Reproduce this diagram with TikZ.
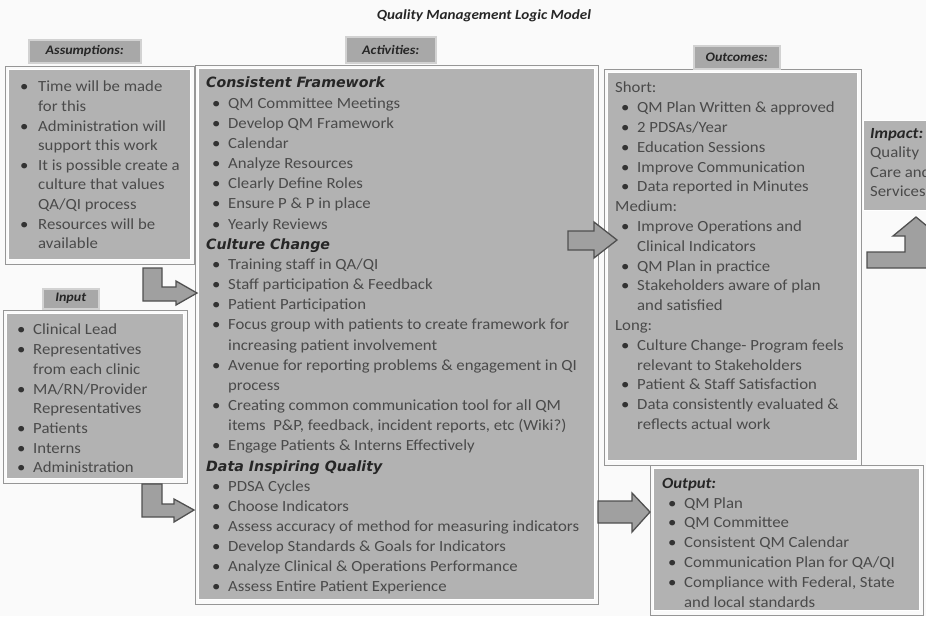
\documentclass[tikz,border=0pt]{standalone}
\usepackage{fontspec}
\setmainfont{Carlito}[FakeStretch=1.08]
\newfontfamily\headfont{DejaVu Sans}
\definecolor{paper}{RGB}{250,250,250}
\definecolor{boxfill}{RGB}{178,178,178}
\definecolor{tagfill}{RGB}{168,168,168}
\definecolor{txtgray}{RGB}{74,74,74}
\definecolor{headgray}{RGB}{38,38,38}
\definecolor{rimgray}{RGB}{150,150,150}
\definecolor{arrowfill}{RGB}{160,160,160}
\definecolor{arrowline}{RGB}{80,80,80}
\newcommand{\itm}[1]{\makebox[16pt][l]{\textcolor{black!80}{\textbullet}}#1}
\newcommand{\nxt}[1]{\hspace*{16pt}#1}
\newcommand{\hd}[1]{\hspace*{-6pt}{\headfont\fontsize{14.2}{20}\selectfont\bfseries\itshape\color{headgray}#1}}

\begin{document}
\begin{tikzpicture}[x=1pt, y=-1pt,
    panel/.style={fill=boxfill, draw=white, line width=1pt, anchor=north west, inner sep=0pt},
    tag/.style={fill=tagfill, draw=gray!35, line width=1.5pt, anchor=north west, inner sep=0pt,
        text=headgray, font=\fontsize{13}{14}\selectfont\bfseries\itshape},
    items/.style={anchor=north west, inner sep=0pt, align=left, text=txtgray},
    rim/.style={draw=rimgray, line width=.8pt},
    blockarrow/.style={draw=arrowline, line width=1.3pt, fill=arrowfill, line join=miter}]
\clip (0,0) rectangle (926,616);
\fill[paper] (0,0) rectangle (926,616);

% title
\node[font=\fontsize{14}{16}\selectfont\bfseries\itshape, text=headgray] (title) at (484,16) {Quality Management Logic Model};

% boxes
\node[panel, minimum width=182, minimum height=190] (assum) at (8,69) {};
\node[panel, minimum width=177, minimum height=165] (input) at (6,313) {};
\node[panel, minimum width=396, minimum height=531] (activ) at (198,68) {};
\node[panel, minimum width=250, minimum height=388] (outc) at (607,72) {};
\node[panel, minimum width=266, minimum height=142] (outp) at (653,468) {};
\node[panel, minimum width=80, minimum height=90] (impact) at (863,120) {};
\foreach \b in {assum,input,activ,outc,outp}
    \draw[rim] ([shift={(-3,-3)}]\b.north west) rectangle ([shift={(3,4)}]\b.south east);

% headings
\node[tag, minimum width=112, minimum height=23] (assumtag) at (28,39) {Assumptions:};
\node[tag, minimum width=90, minimum height=26] (activtag) at (345,36) {Activities:};
\node[tag, minimum width=86, minimum height=23] (outctag) at (693,45) {Outcomes:};
\node[tag, minimum width=56, minimum height=20] (inputtag) at (42,288) {Input};

% arrows
\draw[blockarrow] (143,268) -- (162,268) -- (162,287) -- (176,287) -- (176,281) -- (197,293)
    -- (176,305) -- (176,301) -- (143,301) -- cycle;
\draw[blockarrow] (142,484) -- (162,484) -- (162,504) -- (174,504) -- (174,499) -- (194,510)
    -- (174,522) -- (174,517) -- (142,517) -- cycle;
\draw[blockarrow] (568,231) -- (594,231) -- (594,222) -- (617,240) -- (594,258) -- (594,250)
    -- (568,250) -- cycle;
\draw[blockarrow] (598,501) -- (632,501) -- (632,493) -- (650,512) -- (632,532) -- (632,523)
    -- (598,523) -- cycle;
\draw[blockarrow] (867,252) -- (905,252) -- (905,236) -- (893,236) -- (916,217) -- (939,236)
    -- (927,236) -- (927,268) -- (867,268) -- cycle;

% texts
\node[items, font=\fontsize{15.5}{19.6}\selectfont] (assumtxt) at (20,81) {%
\makebox[18pt][l]{\textcolor{black!80}{\textbullet}}Time will be made\\
\hspace*{18pt}for this\\
\makebox[18pt][l]{\textcolor{black!80}{\textbullet}}Administration will\\
\hspace*{18pt}support this work\\
\makebox[18pt][l]{\textcolor{black!80}{\textbullet}}It is possible create a\\
\hspace*{18pt}culture that values\\
\hspace*{18pt}QA/QI process\\
\makebox[18pt][l]{\textcolor{black!80}{\textbullet}}Resources will be\\
\hspace*{18pt}available};

\node[items, font=\fontsize{15.5}{19.7}\selectfont] (inputtxt) at (17,324) {%
\itm{Clinical Lead}\\
\itm{Representatives}\\
\nxt{from each clinic}\\
\itm{MA/RN/Provider}\\
\nxt{Representatives}\\
\itm{Patients}\\
\itm{Interns}\\
\itm{Administration}};

\node[items, font=\fontsize{15.5}{20.16}\selectfont] (activtxt) at (212,77) {%
\hd{Consistent Framework}\\
\itm{QM Committee Meetings}\\
\itm{Develop QM Framework}\\
\itm{Calendar}\\
\itm{Analyze Resources}\\
\itm{Clearly Define Roles}\\
\itm{Ensure P \& P in place}\\
\itm{Yearly Reviews}\\
\hd{Culture Change}\\
\itm{Training staff in QA/QI}\\
\itm{Staff participation \& Feedback}\\
\itm{Patient Participation}\\
\itm{Focus group with patients to create framework for}\\
\nxt{increasing patient involvement}\\
\itm{Avenue for reporting problems \& engagement in QI}\\
\nxt{process}\\
\itm{Creating common communication tool for all QM}\\
\nxt{items\ \ P\&P, feedback, incident reports, etc (Wiki?)}\\
\itm{Engage Patients \& Interns Effectively}\\
\hd{Data Inspiring Quality}\\
\itm{PDSA Cycles}\\
\itm{Choose Indicators}\\
\itm{Assess accuracy of method for measuring indicators}\\
\itm{Develop Standards \& Goals for Indicators}\\
\itm{Analyze Clinical \& Operations Performance}\\
\itm{Assess Entire Patient Experience}};

\node[items, font=\fontsize{15.5}{19.8}\selectfont] (outctxt) at (621,82) {%
\hspace*{-6pt}Short:\\
\itm{QM Plan Written \& approved}\\
\itm{2 PDSAs/Year}\\
\itm{Education Sessions}\\
\itm{Improve Communication}\\
\itm{Data reported in Minutes}\\
\hspace*{-6pt}Medium:\\
\itm{Improve Operations and}\\
\nxt{Clinical Indicators}\\
\itm{QM Plan in practice}\\
\itm{Stakeholders aware of plan}\\
\nxt{and satisfied}\\
\hspace*{-6pt}Long:\\
\itm{Culture Change- Program feels}\\
\nxt{relevant to Stakeholders}\\
\itm{Patient \& Staff Satisfaction}\\
\itm{Data consistently evaluated \&}\\
\nxt{reflects actual work}};

\node[items, font=\fontsize{15.5}{19.8}\selectfont] (outptxt) at (668,478) {%
{\hspace*{-6pt}\bfseries\itshape\color{headgray}Output:}\\
\itm{QM Plan}\\
\itm{QM Committee}\\
\itm{Consistent QM Calendar}\\
\itm{Communication Plan for QA/QI}\\
\itm{Compliance with Federal, State}\\
\nxt{and local standards}};

\node[items, font=\fontsize{15.5}{19.5}\selectfont] (impacttxt) at (870,128) {%
{\bfseries\itshape\color{headgray}Impact:}\\
Quality\\
Care and\\
Services};
\end{tikzpicture}
\end{document}
